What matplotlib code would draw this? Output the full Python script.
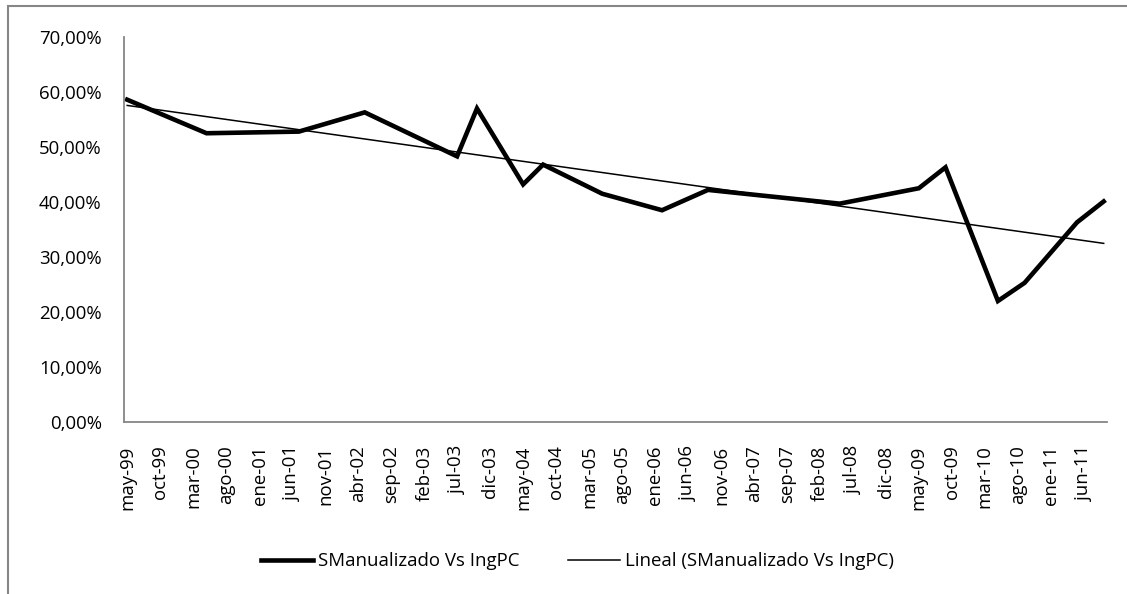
import matplotlib
matplotlib.use("Agg")
import matplotlib.pyplot as plt
import matplotlib.dates as mdates
import numpy as np
import pandas as pd
from matplotlib.patches import Rectangle

# Data (fraction of 1)
fechas = ["1999-05", "2000-05", "2001-07", "2002-05", "2003-07", "2003-10",
          "2004-05", "2004-08", "2005-05", "2006-02", "2006-09", "2007-05",
          "2008-05", "2009-05", "2009-09", "2010-05", "2010-09", "2011-05",
          "2011-09"]
valores = [0.586, 0.525, 0.528, 0.563, 0.483, 0.570,
           0.432, 0.468, 0.415, 0.385, 0.422, 0.412,
           0.397, 0.425, 0.463, 0.220, 0.253, 0.363,
           0.401]

etiquetas_x = ["may-99", "oct-99", "mar-00", "ago-00", "ene-01", "jun-01", "nov-01",
               "abr-02", "sep-02", "feb-03", "jul-03", "dic-03", "may-04", "oct-04",
               "mar-05", "ago-05", "ene-06", "jun-06", "nov-06", "abr-07", "sep-07",
               "feb-08", "jul-08", "dic-08", "may-09", "oct-09", "mar-10", "ago-10",
               "ene-11", "jun-11"]
fechas_ticks = pd.date_range("1999-05-01", periods=len(etiquetas_x), freq="5MS")

serie = "SManualizado Vs IngPC"

plt.rcParams['font.family'] = ['Open Sans', 'DejaVu Sans']
fs = 13.4

fig = plt.figure(figsize=(11.27, 5.94), dpi=100)
ax = fig.add_axes([0.110, 0.2896, 0.8722, 0.6481])

# points sit in the middle of each month slot (Excel date axis)
x = mdates.date2num(pd.to_datetime(fechas) + pd.Timedelta(days=15))
ax.plot(x, valores, color="black", lw=3.3, solid_joinstyle="miter", label=serie)

# linear trend (Excel "Lineal")
coef = np.polyfit(x, valores, 1)
xt = np.array([x[0], x[-1]])
ax.plot(xt, np.polyval(coef, xt), color="black", lw=1.1, label="Lineal (" + serie + ")")

ax.set_xlim(mdates.date2num(pd.Timestamp("1999-05-01")),
            mdates.date2num(pd.Timestamp("2011-10-01")))
ax.set_ylim(0, 0.70)

ax.set_yticks(np.arange(0, 0.71, 0.10))
ax.set_yticklabels([f"{v*100:.2f}%".replace(".", ",") for v in np.arange(0, 0.71, 0.10)])
ax.set_xticks(mdates.date2num(fechas_ticks + pd.Timedelta(days=15)))
ax.set_xticklabels(etiquetas_x, rotation=90, va="top")

for s in ["top", "right"]:
    ax.spines[s].set_visible(False)
for s in ["left", "bottom"]:
    ax.spines[s].set_color("#868686")
    ax.spines[s].set_linewidth(1.3)
ax.tick_params(axis="both", length=0, labelsize=fs, colors="black")
ax.tick_params(axis="x", pad=17)
ax.tick_params(axis="y", pad=16)

fig.legend(loc="center", bbox_to_anchor=(0.512, 0.055), ncol=2, frameon=False,
           fontsize=fs, handlelength=2.8, handletextpad=0.27, columnspacing=2.6)

# chart area border (cut at right / bottom in the original)
fig.patches.append(Rectangle((8 / 1127, -0.1), 1.2, 1 - 6 / 594 + 0.1,
                             transform=fig.transFigure, fill=False,
                             edgecolor="#868686", lw=1.5))

fig.savefig("out.png", dpi=100)
